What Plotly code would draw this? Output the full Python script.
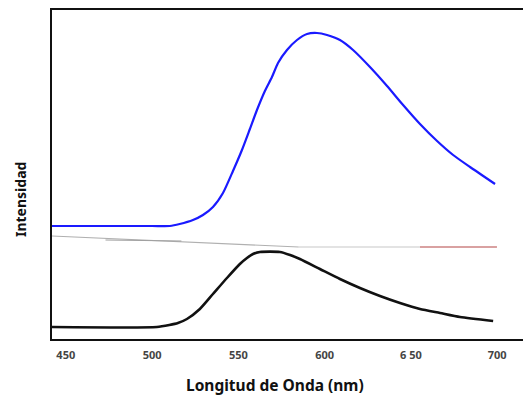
import plotly.graph_objects as go

# Wavelength (nm) and intensity (arbitrary units)
blue_x = [442, 500, 510.3, 516.0, 523.7, 529.5, 535.3, 541.1, 546.9, 552.1, 556.7, 560.8,
          565.4, 569.5, 573.0, 578.2, 584.0, 589.8, 595.6, 601.4, 608.9, 616.5, 626.3,
          636.2, 645.5, 655.3, 665.2, 674.5, 684.3, 698.8]
blue_y = [113, 113, 113, 115, 119, 124, 132, 146, 168, 189, 210, 229,
          248, 262, 276, 289, 299, 305, 306, 304, 299, 289, 272,
          253, 234, 215, 198, 184, 172, 155]

black_x = [442, 502.8, 510.0, 515.0, 520.2, 527.7, 535.3, 543.4, 550.9, 555.0, 558.5, 562.5,
           574.1, 580.0, 585.7, 597.3, 608.9, 620.5, 632.1, 643.7, 655.3, 666.9, 678.5, 697.7]
black_y = [12, 12, 14, 16, 20, 30, 45, 61, 75, 81, 85, 87,
           87, 84, 80, 70, 60, 51, 43, 36, 30, 26, 22, 18]

# faint stray lines visible in the picture
gray1_x = [442, 585.0]
gray1_y = [103, 92]
gray2_x = [473.0, 517.0]
gray2_y = [99, 98]
gray3_x = [585.0, 699.9]
gray3_y = [92, 92]
red_x = [655.3, 699.9]
red_y = [92, 92]

tick_vals = [450, 500, 550, 600, 650, 700]
tick_text = ["<b>450</b>", "<b>500</b>", "<b>550</b>", "<b>600</b>", "<b>6 50</b>", "<b>700</b>"]

fig = go.Figure()
fig.add_trace(go.Scatter(x=gray1_x, y=gray1_y, mode="lines",
                         line=dict(color="#b0b0b0", width=1.2), hoverinfo="skip"))
fig.add_trace(go.Scatter(x=gray2_x, y=gray2_y, mode="lines",
                         line=dict(color="#a0a0a0", width=1.2), hoverinfo="skip"))
fig.add_trace(go.Scatter(x=gray3_x, y=gray3_y, mode="lines",
                         line=dict(color="#c8c8c8", width=1.2), hoverinfo="skip"))
fig.add_trace(go.Scatter(x=red_x, y=red_y, mode="lines",
                         line=dict(color="#d06060", width=1.2), hoverinfo="skip"))
fig.add_trace(go.Scatter(x=blue_x, y=blue_y, mode="lines",
                         line=dict(color="#1a1aff", width=2.2, shape="spline", smoothing=0.6)))
fig.add_trace(go.Scatter(x=black_x, y=black_y, mode="lines",
                         line=dict(color="#111111", width=2.6, shape="spline", smoothing=0.6)))

fig.update_layout(
    width=523, height=395,
    margin=dict(l=52, r=0, t=10, b=56),
    paper_bgcolor="white", plot_bgcolor="white",
    showlegend=False,
    font=dict(family="Noto Sans", color="#222"),
    xaxis=dict(range=[442, 715], tickvals=tick_vals, ticktext=tick_text,
               showgrid=False, zeroline=False, showline=True, mirror=True,
               linecolor="#111", linewidth=2, ticks="", automargin=False,
               ticklabelstandoff=5,
               tickfont=dict(size=11, color="#444", family="Noto Sans")),
    yaxis=dict(range=[0, 329], showticklabels=False, showgrid=False, zeroline=False,
               showline=True, linecolor="#111", linewidth=2, ticks="", automargin=False),
    annotations=[
        dict(text="<b>Longitud de Onda (nm)</b>", xref="paper", yref="paper",
             x=0.4745, y=-0.1398, showarrow=False, xanchor="center", yanchor="middle",
             font=dict(size=15.5, color="#111")),
        dict(text="<b>Intensidad</b>", xref="paper", yref="paper", textangle=-90,
             x=-0.0658, y=0.4225, showarrow=False, xanchor="center", yanchor="middle",
             font=dict(size=14, color="#111")),
    ],
)

fig.write_html("out.html", config={"displayModeBar": False},
               post_script="document.body.style.margin='0';")
